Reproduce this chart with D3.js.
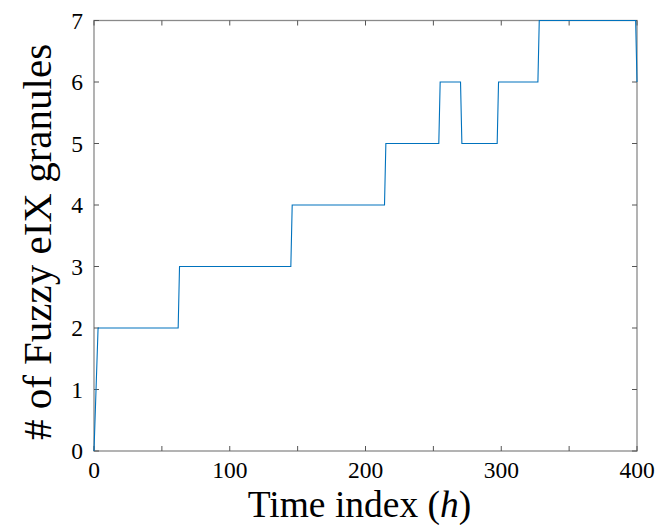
<!DOCTYPE html>
<html><head><meta charset="utf-8">
<script src="https://cdn.jsdelivr.net/npm/d3@7"></script>
<style>body{margin:0;background:#fff}svg{display:block}text{font-family:"Liberation Serif","Times New Roman",serif;fill:#000}</style>
</head><body><svg id="c" width="657" height="525"></svg>
<script>
const timeIndex = [0, 3, 62, 63, 145, 146, 214, 215, 254, 255, 270, 271, 297, 298, 327, 328, 399, 400];
const granules  = [0, 2, 2, 3, 3, 4, 4, 5, 5, 6, 6, 5, 5, 6, 6, 7, 7, 6];
const xTicks = [0, 50, 100, 150, 200, 250, 300, 350, 400];
const xTickLabels = ["0", "", "100", "", "200", "", "300", "", "400"];
const yTicks = [0, 1, 2, 3, 4, 5, 6, 7];
const xLabelMain = "Time index (";
const xLabelVar = "h";
const yLabel = "# of Fuzzy eIX granules";

const svg = d3.select("#c");
const L = 94, R = 637, T = 20.5, B = 451;
const x = d3.scaleLinear().domain([0, 400]).range([L, R]);
const y = d3.scaleLinear().domain([0, 7]).range([B, T]);
const tickLen = 5;

// box
svg.append("rect").attr("x", L).attr("y", T).attr("width", R - L).attr("height", B - T)
  .attr("fill", "none").attr("stroke", "#8a8a8a").attr("stroke-width", 1.3);

// x ticks
const gx = svg.append("g");
xTicks.forEach((t, i) => {
  gx.append("line").attr("x1", x(t)).attr("x2", x(t)).attr("y1", B).attr("y2", B - tickLen).attr("stroke", "#555").attr("stroke-width", 1);
  gx.append("line").attr("x1", x(t)).attr("x2", x(t)).attr("y1", T).attr("y2", T + tickLen).attr("stroke", "#555").attr("stroke-width", 1);
  if (xTickLabels[i]) gx.append("text").attr("x", x(t)).attr("y", 478).attr("text-anchor", "middle").attr("font-size", 23.5).text(xTickLabels[i]);
});
// y ticks
const gy = svg.append("g");
yTicks.forEach(t => {
  gy.append("line").attr("x1", L).attr("x2", L + tickLen).attr("y1", y(t)).attr("y2", y(t)).attr("stroke", "#555").attr("stroke-width", 1);
  gy.append("line").attr("x1", R).attr("x2", R - tickLen).attr("y1", y(t)).attr("y2", y(t)).attr("stroke", "#555").attr("stroke-width", 1);
  gy.append("text").attr("x", 83).attr("y", y(t) + 8).attr("text-anchor", "end").attr("font-size", 23.5).text(String(t));
});

// line (drawn over the box)
const line = d3.line().x((d, i) => x(timeIndex[i])).y((d, i) => y(granules[i]));
svg.append("path").datum(granules).attr("d", line)
  .attr("fill", "none").attr("stroke", "#0072BD").attr("stroke-width", 1.1);

// x label
const xl = svg.append("text").attr("x", (L + R) / 2 - 6).attr("y", 517).attr("text-anchor", "middle").attr("font-size", 37.5);
xl.append("tspan").text(xLabelMain);
xl.append("tspan").attr("font-style", "italic").text(xLabelVar);
xl.append("tspan").text(")");

// y label
svg.append("text").attr("transform", `translate(51,242) rotate(-90)`)
  .attr("text-anchor", "middle").attr("font-size", 41).text(yLabel);
</script></body></html>
